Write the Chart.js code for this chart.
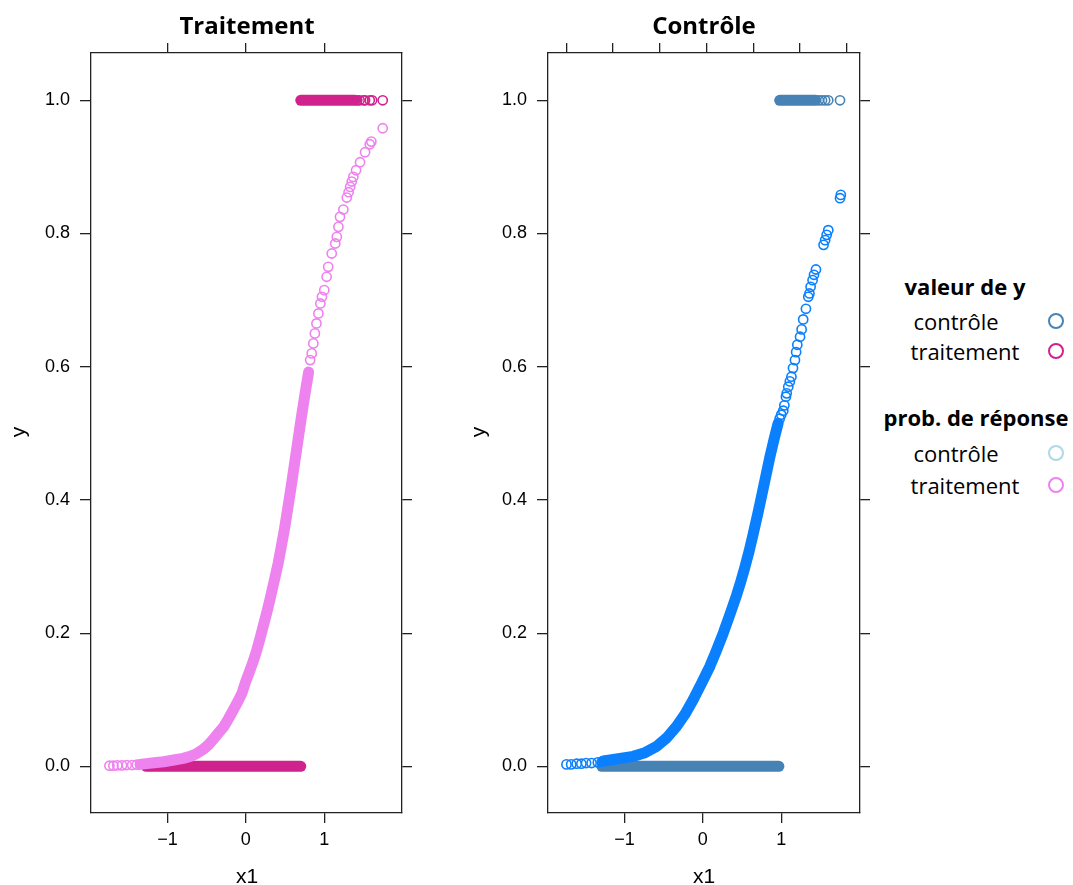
<!DOCTYPE html>
<html>
<head>
<meta charset="utf-8">
<script src="https://cdn.jsdelivr.net/npm/chart.js@4.4.0/dist/chart.umd.min.js"></script>
<style>
  body { margin: 0; background: #fff; width: 1073px; height: 885px; position: relative; overflow: hidden; }
  canvas { position: absolute; top: 0; }
  .txt { position: absolute; white-space: nowrap; color: #000; }
  .title { font: bold 24px "Open Sans", sans-serif; transform: translate(-50%, -50%); }
  .axt { font: 21px "Liberation Sans", sans-serif; transform: translate(-50%, -50%); }
  .ylab { transform: translate(-50%, -50%) rotate(-90deg); }
  .lg { font: 22px "Open Sans", sans-serif; transform: translate(-50%, -50%); }
  .lgh { font-weight: bold; }
  .dot { position: absolute; width: 16px; height: 16px; border-radius: 50%; border: 2px solid; box-sizing: border-box; transform: translate(-50%, -50%); }
</style>
</head>
<body>
<canvas id="trt-chart"></canvas>
<canvas id="ctrl-chart"></canvas>

<div class="txt title" style="left:247px; top:24px;">Traitement</div>
<div class="txt title" style="left:704px; top:24px;">Contrôle</div>
<div class="txt axt ylab" style="left:18px; top:432px;">y</div>
<div class="txt axt ylab" style="left:478px; top:432px;">y</div>
<div class="txt axt" style="left:247px; top:876px;">x1</div>
<div class="txt axt" style="left:704px; top:876px;">x1</div>

<div class="txt lg lgh" style="left:965px; top:286px;">valeur de y</div>
<div class="txt lg" style="left:956px; top:321px;">contrôle</div>
<div class="txt lg" style="left:965px; top:351px;">traitement</div>
<div class="txt lg lgh" style="left:976px; top:417px;">prob. de réponse</div>
<div class="txt lg" style="left:956px; top:453px;">contrôle</div>
<div class="txt lg" style="left:965px; top:485px;">traitement</div>
<span class="dot" style="left:1056px; top:321px; border-color:#4682B4;"></span>
<span class="dot" style="left:1056px; top:351px; border-color:#D0228C;"></span>
<span class="dot" style="left:1056px; top:453px; border-color:#ADD8E6;"></span>
<span class="dot" style="left:1056px; top:485px; border-color:#EE82EE;"></span>

<script>
//================================== DATA ==============================================================//
// tick values
const yTicks = [0, 0.2, 0.4, 0.6, 0.8, 1.0];
const xTicks = [-1, 0, 1];
const ctrlTopTicks = [-1.74, -1.146, -0.549, 0.047, 0.642, 1.239, 1.835];

// Traitement : prob. de réponse (dense part, drawn as band)
const trtProbBandX = [-1.35, -1.2, -1.05, -0.9, -0.8, -0.71, -0.63, -0.55, -0.48, -0.42, -0.35, -0.28, -0.22, -0.16, -0.1, -0.05, 0.0,
  0.055, 0.1, 0.14, 0.18, 0.22, 0.26, 0.30, 0.335, 0.37, 0.41, 0.45, 0.49, 0.52, 0.555, 0.59, 0.62, 0.65, 0.68, 0.70, 0.73, 0.765, 0.80];
const trtProbBandY = [0.003, 0.005, 0.007, 0.010, 0.012, 0.015, 0.019, 0.025, 0.032, 0.04, 0.05, 0.06, 0.072, 0.085, 0.098, 0.11, 0.128,
  0.145, 0.16, 0.175, 0.192, 0.21, 0.228, 0.247, 0.265, 0.283, 0.304, 0.329, 0.355, 0.377, 0.403, 0.43, 0.454, 0.478, 0.502, 0.518, 0.541, 0.567, 0.592];
// Traitement : prob. de réponse (single circles)
const trtProbX = [-1.74, -1.69, -1.64, -1.58, -1.52, -1.45, -1.39,
  0.82, 0.84, 0.86, 0.88, 0.90, 0.925, 0.95, 0.97, 1.0, 1.03, 1.05, 1.095, 1.14, 1.16, 1.18, 1.2,
  1.243, 1.287, 1.31, 1.33, 1.35, 1.37, 1.405, 1.456, 1.52, 1.58, 1.60, 1.745];
const trtProbY = [0.001, 0.001, 0.0015, 0.0015, 0.002, 0.002, 0.0025,
  0.61, 0.62, 0.635, 0.65, 0.665, 0.68, 0.695, 0.705, 0.715, 0.735, 0.75, 0.77, 0.785, 0.795, 0.81, 0.825,
  0.836, 0.854, 0.862, 0.87, 0.878, 0.885, 0.895, 0.907, 0.922, 0.934, 0.938, 0.958];
// Traitement : valeur de y
const trtY0X = [-1.27, 0.70];
const trtY0 = [0, 0];
const trtY1BandX = [0.70, 1.39];
const trtY1Band = [1, 1];
const trtY1X = [1.42, 1.45, 1.50, 1.52, 1.58, 1.61, 1.745];
const trtY1 = [1, 1, 1, 1, 1, 1, 1];

// Contrôle : prob. de réponse (dense part)
const ctrlProbBandX = [-1.27, -1.1, -0.89, -0.75, -0.59, -0.46, -0.336, -0.23, -0.124, -0.02, 0.089, 0.17, 0.26, 0.345, 0.43, 0.48,
  0.536, 0.59, 0.642, 0.70, 0.75, 0.80, 0.856, 0.91, 0.96];
const ctrlProbBandY = [0.008, 0.011, 0.015, 0.02, 0.03, 0.043, 0.06, 0.078, 0.10, 0.124, 0.15, 0.173, 0.20, 0.228, 0.257, 0.276,
  0.299, 0.323, 0.349, 0.379, 0.406, 0.434, 0.465, 0.492, 0.515];
// Contrôle : prob. de réponse (single circles)
const ctrlProbX = [-1.74, -1.68, -1.61, -1.55, -1.49, -1.42, -1.34, -1.29,
  0.98, 1.00, 1.026, 1.04, 1.06, 1.07, 1.09, 1.11, 1.13, 1.15, 1.175, 1.19, 1.205, 1.24, 1.26, 1.28,
  1.315, 1.345, 1.36, 1.375, 1.40, 1.418, 1.443, 1.54, 1.56, 1.58, 1.60, 1.75, 1.76];
const ctrlProbY = [0.003, 0.003, 0.004, 0.004, 0.005, 0.005, 0.006, 0.007,
  0.522, 0.528, 0.534, 0.542, 0.555, 0.56, 0.57, 0.578, 0.585, 0.598, 0.61, 0.622, 0.633, 0.645, 0.656, 0.671,
  0.687, 0.705, 0.71, 0.72, 0.73, 0.738, 0.746, 0.783, 0.79, 0.798, 0.805, 0.853, 0.858];
// Contrôle : valeur de y
const ctrlY0X = [-1.29, 0.97];
const ctrlY0 = [0, 0];
const ctrlY1BandX = [0.98, 1.44];
const ctrlY1Band = [1, 1];
const ctrlY1X = [1.48, 1.52, 1.56, 1.60, 1.75];
const ctrlY1 = [1, 1, 1, 1, 1];

//================================== HELPERS ===========================================================//
const trtYCol = '#D0228C';
const trtProbCol = '#EE82EE';
const ctrlYCol = '#4682B4';
const ctrlProbCol = '#0A80FF';

function pts(xs, ys){
    return xs.map((x, i) => ({x: x, y: ys[i]}));
}
function band(xs, ys, color, order){
    return {data: pts(xs, ys), showLine: true, pointRadius: 0, borderColor: color, borderWidth: 11,
        borderCapStyle: 'round', borderJoinStyle: 'round', order: order};
}
function rings(xs, ys, color, order){
    return {data: pts(xs, ys), showLine: false, pointRadius: 4.6, pointBorderWidth: 1.6,
        pointBackgroundColor: 'rgba(0,0,0,0)', pointBorderColor: color, borderColor: color, order: order};
}
const tickFont = {family: 'Liberation Sans', size: 18};
function fmtX(v){ return v < 0 ? '\u2212' + Math.abs(v) : String(v); }

function makeScales(xmin, xmax, topTicks, dims){
    const line = {color: '#222', width: 1.3};
    const grid = {drawOnChartArea: false, drawTicks: true, tickLength: 10, color: '#222', lineWidth: 1.3};
    return {
        x: {type: 'linear', position: 'bottom', min: xmin, max: xmax,
            afterBuildTicks: s => { s.ticks = xTicks.map(v => ({value: v})); },
            ticks: {callback: v => fmtX(v), font: tickFont, color: '#000', padding: 6, maxRotation: 0},
            grid: grid, border: line, afterFit: s => { s.height = dims.bottom; }},
        xTop: {type: 'linear', position: 'top', min: xmin, max: xmax,
            afterBuildTicks: s => { s.ticks = topTicks.map(v => ({value: v})); },
            ticks: {callback: () => '', font: tickFont},
            grid: grid, border: line, afterFit: s => { s.height = dims.top; }},
        y: {type: 'linear', position: 'left', min: -0.07, max: 1.071,
            afterBuildTicks: s => { s.ticks = yTicks.map(v => ({value: v})); },
            ticks: {callback: v => v.toFixed(1), font: tickFont, color: '#000', padding: 10},
            grid: Object.assign({}, grid, {tickLength: 11}), border: line, afterFit: s => { s.width = dims.left; }},
        yRight: {type: 'linear', position: 'right', min: -0.07, max: 1.071,
            afterBuildTicks: s => { s.ticks = yTicks.map(v => ({value: v})); },
            ticks: {callback: () => '', font: tickFont},
            grid: grid, border: line, afterFit: s => { s.width = dims.right; }}
    };
}

function createPanel(id, left, width, datasets, xmin, xmax, topTicks, dims){
    const cvs = document.getElementById(id);
    cvs.style.left = left + 'px';
    cvs.width = width; cvs.height = 885;
    cvs.style.width = width + 'px'; cvs.style.height = '885px';
    return new Chart(cvs.getContext('2d'), {
        type: 'scatter',
        data: {datasets: datasets},
        options: {
            responsive: false, animation: false, devicePixelRatio: 1,
            layout: {padding: 0},
            plugins: {legend: {display: false}, tooltip: {enabled: false}, title: {display: false}},
            scales: makeScales(xmin, xmax, topTicks, dims)
        }
    });
}

//================================== PANELS ============================================================//
createPanel('trt-chart', 0, 430, [
    band(trtProbBandX, trtProbBandY, trtProbCol, 1),
    rings(trtProbX, trtProbY, trtProbCol, 0),
    band(trtY0X, trtY0, trtYCol, 2),
    band(trtY1BandX, trtY1Band, trtYCol, 2),
    rings(trtY1X, trtY1, trtYCol, 2)
], -1.975, 1.991, xTicks, {left: 91, right: 28, top: 53, bottom: 72});

createPanel('ctrl-chart', 455, 425, [
    band(ctrlProbBandX, ctrlProbBandY, ctrlProbCol, 1),
    rings(ctrlProbX, ctrlProbY, ctrlProbCol, 0),
    band(ctrlY0X, ctrlY0, ctrlYCol, 2),
    band(ctrlY1BandX, ctrlY1Band, ctrlYCol, 2),
    rings(ctrlY1X, ctrlY1, ctrlYCol, 2)
], -1.976, 2.005, ctrlTopTicks, {left: 93, right: 20, top: 53, bottom: 72});
</script>
</body>
</html>
